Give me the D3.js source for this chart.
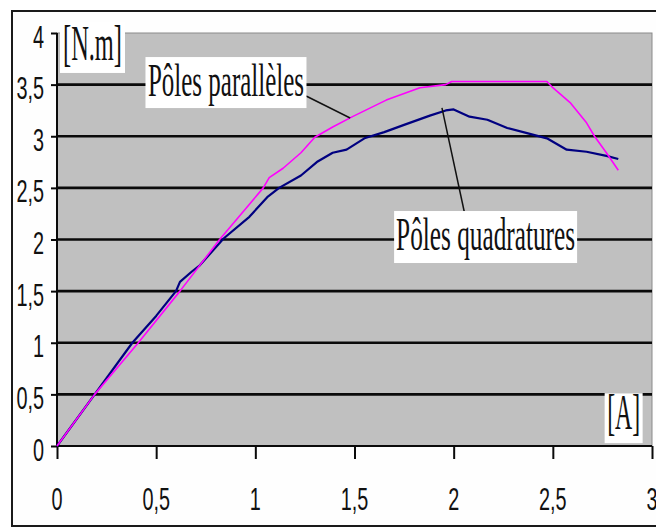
<!DOCTYPE html>
<html>
<head>
<meta charset="utf-8">
<script src="https://cdn.jsdelivr.net/npm/d3@7/dist/d3.min.js"></script>
<style>
  html, body { margin: 0; padding: 0; background: #ffffff; }
  svg { display: block; }
</style>
</head>
<body>
<svg id="chart" width="656" height="528"></svg>
<script>
// ---- Data ----
const xTicks = [0, 0.5, 1, 1.5, 2, 2.5, 3];
const xTickLabels = ["0", "0,5", "1", "1,5", "2", "2,5", "3"];
const yTicks = [0, 0.5, 1, 1.5, 2, 2.5, 3, 3.5, 4];
const yTickLabels = ["0", "0,5", "1", "1,5", "2", "2,5", "3", "3,5", "4"];

// Pôles parallèles (magenta)
const currentPar = [0, 0.19, 0.41, 0.62, 0.82, 1.04, 1.07, 1.14, 1.23, 1.30, 1.39, 1.49, 1.66, 1.83, 1.96, 1.99, 2.47, 2.50, 2.59, 2.67, 2.71, 2.77, 2.83];
const torquePar  = [0, 0.50, 1.00, 1.50, 2.00, 2.50, 2.60, 2.69, 2.84, 2.99, 3.09, 3.19, 3.35, 3.47, 3.50, 3.53, 3.53, 3.47, 3.32, 3.13, 3.00, 2.84, 2.67];

// Pôles quadratures (navy)
const currentQuad = [0, 0.19, 0.38, 0.50, 0.60, 0.62, 0.68, 0.72, 0.84, 0.97, 1.06, 1.12, 1.23, 1.31, 1.39, 1.46, 1.55, 1.65, 1.75, 1.88, 1.96, 2.00, 2.08, 2.17, 2.27, 2.37, 2.47, 2.57, 2.67, 2.77, 2.83];
const torqueQuad  = [0, 0.50, 1.00, 1.26, 1.50, 1.59, 1.69, 1.75, 2.01, 2.22, 2.41, 2.50, 2.62, 2.75, 2.84, 2.87, 2.98, 3.04, 3.11, 3.20, 3.25, 3.26, 3.19, 3.16, 3.08, 3.03, 2.98, 2.87, 2.85, 2.81, 2.78];

const seriesNames = ["Pôles parallèles", "Pôles quadratures"];
const yUnit = "[N.m]";
const xUnit = "[A]";

// ---- Layout ----
const svg = d3.select("#chart");
const plot = { left: 57, right: 652, top: 33, bottom: 446 };
const x = d3.scaleLinear().domain([0, 3]).range([plot.left, plot.right]);
const y = d3.scaleLinear().domain([0, 4]).range([plot.bottom, plot.top]);

// outer frame
svg.append("rect")
  .attr("x", 12).attr("y", 11).attr("width", 700).attr("height", 515)
  .attr("fill", "#fefefe").attr("stroke", "#1a1a1a").attr("stroke-width", 2);

// plot area
svg.append("rect")
  .attr("x", plot.left).attr("y", plot.top)
  .attr("width", plot.right - plot.left).attr("height", plot.bottom - plot.top)
  .attr("fill", "#c0c0c0").attr("stroke", "#8a8a8a").attr("stroke-width", 1);

// gridlines
svg.append("g").selectAll("line")
  .data(yTicks.filter(d => d > 0 && d < 4))
  .join("line")
  .attr("x1", plot.left).attr("x2", plot.right)
  .attr("y1", d => y(d)).attr("y2", d => y(d))
  .attr("stroke", "#0a0a0a").attr("stroke-width", 2.6);

// axes
const xAxis = d3.axisBottom(x).tickValues(xTicks).tickSize(13).tickFormat("");
const yAxis = d3.axisLeft(y).tickValues(yTicks).tickSize(6).tickFormat("");
const gx = svg.append("g").attr("transform", `translate(0,${plot.bottom})`).call(xAxis);
const gy = svg.append("g").attr("transform", `translate(${plot.left},0)`).call(yAxis);
[gx, gy].forEach(g => {
  g.select(".domain").attr("stroke", "#0a0a0a").attr("stroke-width", 2);
  g.selectAll(".tick line").attr("stroke", "#0a0a0a").attr("stroke-width", 2);
});
gx.select(".domain").attr("d", `M${plot.left},0H${plot.right}`);
gy.select(".domain").attr("d", `M0,${plot.top}V${plot.bottom}`);

// tick labels (condensed, like the reference)
function sqText(parent, tx, ty, str, opts) {
  return parent.append("text")
    .attr("transform", `translate(${tx},${ty}) scale(${opts.sx},1)`)
    .attr("text-anchor", opts.anchor || "middle")
    .attr("font-family", opts.family)
    .attr("font-size", opts.size)
    .attr("fill", "#111")
    .text(str);
}
const sans = "'Liberation Sans', Arial, sans-serif";
const serif = "'Liberation Serif', 'Times New Roman', serif";

yTicks.forEach((d, i) => {
  sqText(svg, 44, y(d) + 14.5, yTickLabels[i], { sx: 0.62, anchor: "end", family: sans, size: 32 });
});
xTicks.forEach((d, i) => {
  sqText(svg, x(d), plot.bottom + 64, xTickLabels[i], { sx: 0.62, anchor: "middle", family: sans, size: 32 });
});

// series lines
const line = d3.line().x(d => x(d[0])).y(d => y(d[1]));
const parData = currentPar.map((c, i) => [c, torquePar[i]]);
const quadData = currentQuad.map((c, i) => [c, torqueQuad[i]]);

svg.append("path").datum(quadData)
  .attr("d", line).attr("fill", "none")
  .attr("stroke", "#000080").attr("stroke-width", 2.2).attr("stroke-linejoin", "round");
svg.append("path").datum(parData)
  .attr("d", line).attr("fill", "none")
  .attr("stroke", "#ff00ff").attr("stroke-width", 1.6).attr("stroke-linejoin", "round");

// annotation: boxed labels with leader lines (positions in data units)
function boxLabel(str, cx, cy, w, h, textW, fontSize, baselineOff) {
  const px = x(cx), py = y(cy);
  svg.append("rect")
    .attr("x", px - w / 2).attr("y", py - h / 2)
    .attr("width", w).attr("height", h)
    .attr("fill", "#ffffff");
  svg.append("text")
    .attr("x", px - textW / 2).attr("y", py + baselineOff)
    .attr("font-family", serif).attr("font-size", fontSize)
    .attr("fill", "#111")
    .attr("textLength", textW).attr("lengthAdjust", "spacingAndGlyphs")
    .text(str);
}
function leader(x1, y1, x2, y2) {
  svg.append("line")
    .attr("x1", x(x1)).attr("y1", y(y1)).attr("x2", x(x2)).attr("y2", y(y2))
    .attr("stroke", "#111").attr("stroke-width", 1.5);
}

leader(1.256, 3.39, 1.478, 3.177);
leader(1.941, 3.274, 2.057, 2.237);

boxLabel(seriesNames[0], 0.852, 3.52, 161, 51, 156, 47, 13.5);
boxLabel(seriesNames[1], 2.161, 2.024, 183, 52, 179, 46, 13);
boxLabel(yUnit, 0.179, 3.86, 65, 51, 59, 50, 12.5);
boxLabel(xUnit, 2.857, 0.27, 38, 50, 33, 50, 11);
</script>
</body>
</html>
